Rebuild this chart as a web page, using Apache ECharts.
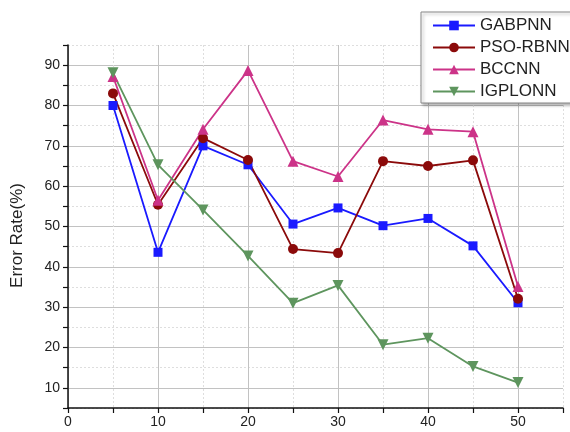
<!DOCTYPE html>
<html>
<head>
<meta charset="utf-8">
<script src="https://cdn.jsdelivr.net/npm/echarts@6/dist/echarts.min.js"></script>
<style>html,body{margin:0;padding:0;background:#fff}#c{width:570px;height:432px}</style>
</head>
<body>
<div id="c"></div>
<script>
var xValues = [5, 10, 15, 20, 25, 30, 35, 40, 45, 50];
var seriesNames = ['GABPNN', 'PSO-RBNN', 'BCCNN', 'IGPLONN'];
var gabpnn  = [80.0, 43.6, 70.0, 65.3, 50.6, 54.6, 50.2, 52.0, 45.2, 31.1];
var psoRbnn = [83.0, 55.4, 71.9, 66.5, 44.4, 43.4, 66.2, 65.0, 66.4, 32.1];
var bccnn   = [87.2, 56.5, 74.1, 88.7, 66.2, 62.4, 76.4, 74.1, 73.5, 35.1];
var igplonn = [88.1, 65.3, 54.1, 42.7, 31.0, 35.4, 20.7, 22.3, 15.3, 11.3];
var yTickLabels = [10, 20, 30, 40, 50, 60, 70, 80, 90];
var xTickLabels = [0, 10, 20, 30, 40, 50];

function pairs(arr){ return xValues.map(function(x,i){ return [x, arr[i]]; }); }

var chart = echarts.init(document.getElementById('c'), null, {renderer:'canvas'});
var font = 'Arial, "Liberation Sans", sans-serif';
var mk = function(name, data, color, symbol, size, rot){
  return {
    name: name, type: 'line', data: pairs(data), symbol: symbol, symbolSize: size,
    symbolRotate: rot || 0,
    lineStyle: {color: color, width: 1.8}, itemStyle: {color: color},
    emphasis: {disabled: true}, z: 3
  };
};
chart.setOption({
  animation: false,
  grid: {left: 68, right: 7, top: 45, bottom: 24, containLabel: false},
  legend: {
    orient: 'vertical', left: 421, top: 12,
    data: seriesNames,
    itemWidth: 42, itemHeight: 12, itemGap: 5,
    padding: [5, 20, 3, 11],
    backgroundColor: '#fff', borderColor: '#888', borderWidth: 1,
    shadowColor: 'rgba(0,0,0,0.3)', shadowBlur: 3, shadowOffsetX: 2, shadowOffsetY: 2,
    textStyle: {fontFamily: font, fontSize: 17, color: '#222'}
  },
  xAxis: [{
    type: 'value', min: 0, max: 55, interval: 5,
    axisLine: {show: true, lineStyle: {color: '#111', width: 1.5}},
    axisTick: {show: true, length: 5, lineStyle: {color: '#111', width: 1.2}},
    axisLabel: {fontFamily: font, fontSize: 14, color: '#222', margin: 7,
      formatter: function(v){ return xTickLabels.indexOf(v) >= 0 ? String(v) : ''; }},
    splitLine: {show: true, lineStyle: {color: ['#c2c2c2', 'rgba(0,0,0,0)'], width: 1}}
  }, {
    type: 'value', min: 0, max: 55, interval: 5, position: 'bottom',
    axisLine: {show: false}, axisTick: {show: false}, axisLabel: {show: false},
    splitLine: {show: true, lineStyle: {color: ['rgba(0,0,0,0)', '#dedede'], type: [2, 2], width: 1}}
  }],
  yAxis: [{
    type: 'value', min: 5, max: 95, interval: 5,
    name: 'Error Rate(%)', nameLocation: 'middle', nameGap: 42, nameRotate: 90,
    nameTextStyle: {fontFamily: font, fontSize: 17, color: '#222', padding: [0, 18, 0, 0]},
    axisLine: {show: true, lineStyle: {color: '#111', width: 1.5}},
    axisTick: {show: true, length: 5, lineStyle: {color: '#111', width: 1.2}},
    axisLabel: {fontFamily: font, fontSize: 14, color: '#222', margin: 8,
      formatter: function(v){ return yTickLabels.indexOf(v) >= 0 ? String(v) : ''; }},
    splitLine: {show: true, lineStyle: {color: ['rgba(0,0,0,0)', '#c2c2c2'], width: 1}}
  }, {
    type: 'value', min: 5, max: 95, interval: 5, position: 'left',
    axisLine: {show: false}, axisTick: {show: false}, axisLabel: {show: false},
    splitLine: {show: true, lineStyle: {color: ['#dedede', 'rgba(0,0,0,0)'], type: [2, 2], width: 1}}
  }],
  series: [
    mk(seriesNames[0], gabpnn, '#1a1aff', 'rect', 9),
    mk(seriesNames[1], psoRbnn, '#8b0a0a', 'circle', 10),
    mk(seriesNames[2], bccnn, '#cc3388', 'triangle', 11),
    mk(seriesNames[3], igplonn, '#5e955e', 'triangle', 11, 180)
  ]
});
</script>
</body>
</html>
